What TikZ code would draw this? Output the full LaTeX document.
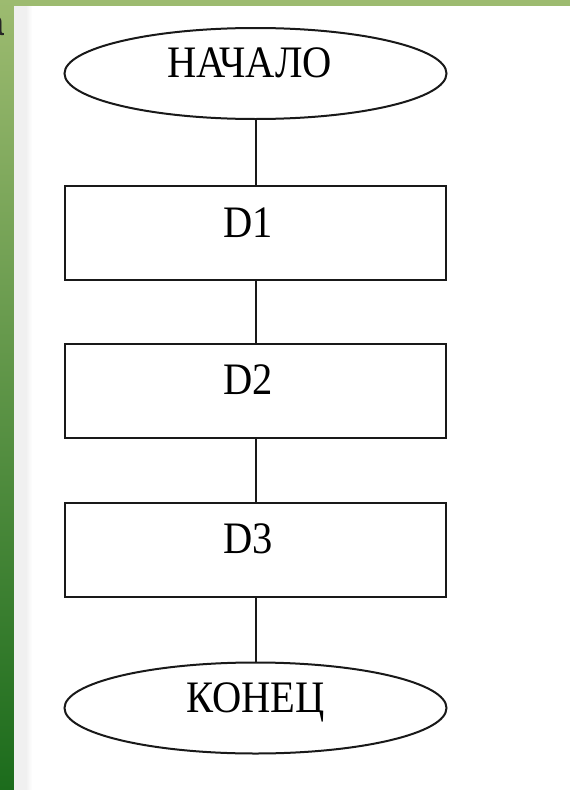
\documentclass[tikz,border=0pt]{standalone}
\usepackage{fontspec}
\setmainfont{Liberation Serif}
\newfontfamily\fragfont{Liberation Sans}
\definecolor{stripTop}{RGB}{157,187,112}
\definecolor{stripBot}{RGB}{28,108,28}
\definecolor{barGreen}{RGB}{157,187,112}
\definecolor{edgeGray}{RGB}{240,240,240}
\newcommand{\flowtxt}[1]{\smash{\raisebox{-4pt}{\scalebox{0.9}[1]{#1}}}}
\tikzset{
  flowline/.style={line width=2pt, black!90},
  termbox/.style={ellipse, draw=black!90, line width=2pt, minimum width=382pt, minimum height=91pt, inner sep=0pt,
    font=\fontsize{45}{50}\selectfont},
  procbox/.style={rectangle, draw=black!90, line width=2pt, minimum width=381pt, minimum height=94pt, inner sep=0pt,
    font=\fontsize{45}{50}\selectfont},
}
\usetikzlibrary{shapes.geometric}
\begin{document}
\begin{tikzpicture}[x=1pt,y=-1pt]
\useasboundingbox (0,0) rectangle (570,790);
\fill[white] (0,0) rectangle (570,790);
% left decorative strips
\shade[top color=stripTop, bottom color=stripBot] (0,0) rectangle (14,790);
\fill[edgeGray] (14,0) rectangle (26,790);
\shade[left color=edgeGray, right color=white] (26,0) rectangle (32,790);
\fill[barGreen] (14,0) rectangle (570,6);
\begin{scope}
  \clip (0,0) rectangle (3.5,60);
  \node[anchor=base east, inner sep=0pt, font=\fragfont\fontsize{36}{40}\selectfont, text=black!85] (frag) at (4.5,35) {а};
\end{scope}
% flowchart
\node[termbox] (start) at (255.5,73.5) {\hspace*{-12pt}\flowtxt{НАЧАЛО}};
\node[procbox] (d1) at (255.5,233) {\hspace*{-14pt}\flowtxt{D1}};
\node[procbox] (d2) at (255.5,390.5) {\hspace*{-14pt}\flowtxt{D2}};
\node[procbox] (d3) at (255.5,549.5) {\hspace*{-14pt}\flowtxt{D3}};
\node[termbox] (stop) at (255.5,708) {\flowtxt{КОНЕЦ}};
\draw[flowline] (start) -- (d1);
\draw[flowline] (d1) -- (d2);
\draw[flowline] (d2) -- (d3);
\draw[flowline] (d3) -- (stop);
\end{tikzpicture}
\end{document}
